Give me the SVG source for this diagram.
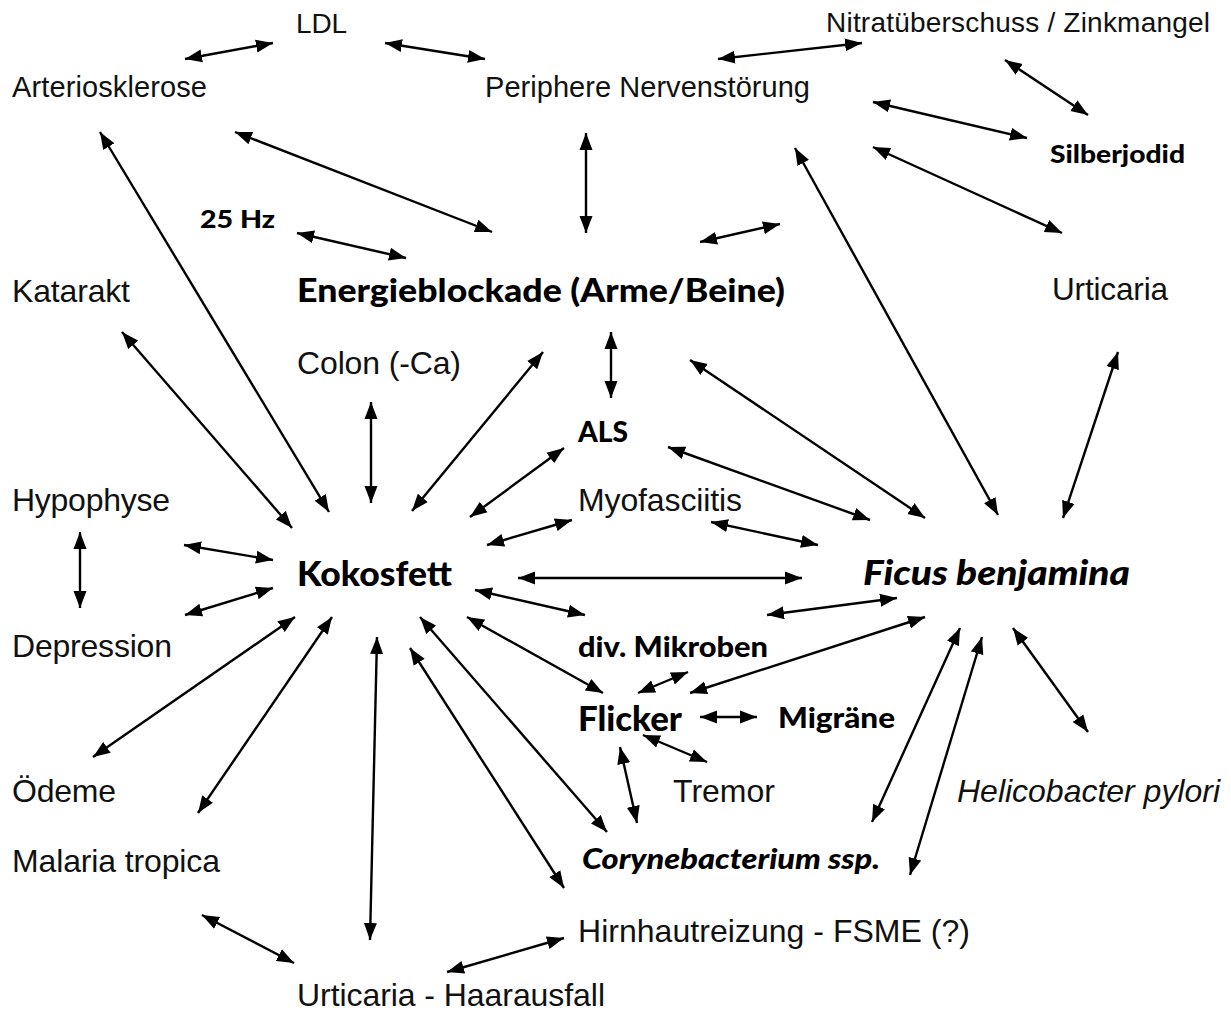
<svg xmlns="http://www.w3.org/2000/svg" width="1231" height="1014" viewBox="0 0 1231 1014">
<defs>
<marker id="ah" markerUnits="userSpaceOnUse" markerWidth="18" markerHeight="14" refX="17" refY="7" orient="auto-start-reverse" viewBox="0 0 18 14">
<path d="M0,0.5 L17,7 L0,13.5 z" fill="#000"/>
</marker>
<style>
.t{font-family:"Liberation Sans",Arial,sans-serif;fill:#111}
.b{font-family:Lato,"Open Sans","Liberation Sans",sans-serif;font-weight:900;fill:#000}
.c line{stroke:#000;stroke-width:2.4;marker-start:url(#ah);marker-end:url(#ah)}
</style>
</defs>
<rect width="1231" height="1014" fill="#fff"/>
<g class="c" id="connectors">
<line x1="185" y1="59" x2="273" y2="43"/>
<line x1="385" y1="43" x2="485" y2="59"/>
<line x1="718" y1="59" x2="862" y2="43"/>
<line x1="1005" y1="60" x2="1088" y2="115"/>
<line x1="873" y1="102" x2="1027" y2="138"/>
<line x1="873" y1="147" x2="1062" y2="233"/>
<line x1="235" y1="132" x2="492" y2="232"/>
<line x1="586" y1="133" x2="586" y2="233"/>
<line x1="700" y1="242" x2="780" y2="224"/>
<line x1="297" y1="233" x2="406" y2="258"/>
<line x1="100" y1="132" x2="329" y2="512"/>
<line x1="122" y1="332" x2="292" y2="528"/>
<line x1="371" y1="402" x2="371" y2="503"/>
<line x1="412" y1="511" x2="543" y2="352"/>
<line x1="611" y1="332" x2="611" y2="398"/>
<line x1="470" y1="517" x2="564" y2="448"/>
<line x1="487" y1="545" x2="572" y2="520"/>
<line x1="711" y1="522" x2="818" y2="545"/>
<line x1="668" y1="447" x2="870" y2="520"/>
<line x1="690" y1="360" x2="925" y2="518"/>
<line x1="795" y1="148" x2="998" y2="515"/>
<line x1="1063" y1="518" x2="1118" y2="352"/>
<line x1="518" y1="578" x2="802" y2="578"/>
<line x1="184" y1="545" x2="273" y2="560"/>
<line x1="185" y1="615" x2="273" y2="588"/>
<line x1="80" y1="532" x2="80" y2="608"/>
<line x1="93" y1="757" x2="295" y2="617"/>
<line x1="198" y1="813" x2="332" y2="617"/>
<line x1="377" y1="637" x2="370" y2="940"/>
<line x1="420" y1="617" x2="607" y2="832"/>
<line x1="410" y1="648" x2="564" y2="888"/>
<line x1="475" y1="590" x2="585" y2="615"/>
<line x1="467" y1="617" x2="603" y2="693"/>
<line x1="767" y1="615" x2="897" y2="598"/>
<line x1="690" y1="693" x2="925" y2="617"/>
<line x1="638" y1="693" x2="688" y2="672"/>
<line x1="700" y1="717" x2="757" y2="717"/>
<line x1="643" y1="735" x2="707" y2="762"/>
<line x1="620" y1="747" x2="637" y2="823"/>
<line x1="960" y1="628" x2="872" y2="822"/>
<line x1="982" y1="637" x2="910" y2="875"/>
<line x1="1013" y1="628" x2="1088" y2="732"/>
<line x1="202" y1="915" x2="294" y2="963"/>
<line x1="447" y1="972" x2="564" y2="938"/>
</g>
<g id="n-ldl"><text class="t" x="296" y="33" font-size="28" textLength="51">LDL</text></g>
<g id="n-arterio"><text class="t" x="12" y="97" font-size="29" textLength="195">Arteriosklerose</text></g>
<g id="n-periphere"><text class="t" x="485" y="97" font-size="29" textLength="325">Periphere Nervenstörung</text></g>
<g id="n-nitrat"><text class="t" x="826" y="32" font-size="28" textLength="384">Nitratüberschuss / Zinkmangel</text></g>
<g id="n-silber"><text class="b" x="1050" y="163" font-size="25" textLength="135" lengthAdjust="spacingAndGlyphs">Silberjodid</text></g>
<g id="n-25hz"><text class="b" x="200" y="228" font-size="25" textLength="75" lengthAdjust="spacingAndGlyphs">25 Hz</text></g>
<g id="n-urticaria"><text class="t" x="1052" y="300" font-size="31.5" textLength="116">Urticaria</text></g>
<g id="n-katarakt"><text class="t" x="12" y="302" font-size="32" textLength="118">Katarakt</text></g>
<g id="n-energie"><text class="b" x="297" y="302" font-size="33" textLength="488" lengthAdjust="spacingAndGlyphs">Energieblockade (Arme/Beine)</text></g>
<g id="n-colon"><text class="t" x="297" y="374" font-size="32" textLength="164">Colon (-Ca)</text></g>
<g id="n-als"><text class="b" x="578" y="442" font-size="28" textLength="50" lengthAdjust="spacingAndGlyphs">ALS</text></g>
<g id="n-hypophyse"><text class="t" x="12" y="511" font-size="32" textLength="158">Hypophyse</text></g>
<g id="n-myofasciitis"><text class="t" x="578" y="511" font-size="32" textLength="164">Myofasciitis</text></g>
<g id="n-kokosfett"><text class="b" x="297" y="586" font-size="34" textLength="155" lengthAdjust="spacingAndGlyphs">Kokosfett</text></g>
<g id="n-ficus"><text class="b" x="863" y="585" font-size="34" font-style="italic" textLength="267" lengthAdjust="spacingAndGlyphs">Ficus benjamina</text></g>
<g id="n-depression"><text class="t" x="12" y="657" font-size="32" textLength="160">Depression</text></g>
<g id="n-mikroben"><text class="b" x="578" y="657" font-size="28" textLength="190" lengthAdjust="spacingAndGlyphs">div. Mikroben</text></g>
<g id="n-flicker"><text class="b" x="578" y="731" font-size="34" textLength="104" lengthAdjust="spacingAndGlyphs">Flicker</text></g>
<g id="n-migraene"><text class="b" x="778" y="728" font-size="28" textLength="117" lengthAdjust="spacingAndGlyphs">Migräne</text></g>
<g id="n-oedeme"><text class="t" x="12" y="802" font-size="32" textLength="104">Ödeme</text></g>
<g id="n-tremor"><text class="t" x="673" y="802" font-size="32" textLength="102">Tremor</text></g>
<g id="n-helicobacter"><text class="t" x="957" y="802" font-size="32" font-style="italic" textLength="263">Helicobacter pylori</text></g>
<g id="n-malaria"><text class="t" x="12" y="872" font-size="32" textLength="208">Malaria tropica</text></g>
<g id="n-coryne"><text class="b" x="582" y="869" font-size="29" font-style="italic" textLength="298" lengthAdjust="spacingAndGlyphs">Corynebacterium ssp.</text></g>
<g id="n-hirnhaut"><text class="t" x="578" y="942" font-size="32" textLength="392">Hirnhautreizung - FSME (?)</text></g>
<g id="n-haarausfall"><text class="t" x="297" y="1006" font-size="32" textLength="308">Urticaria - Haarausfall</text></g>
</svg>
